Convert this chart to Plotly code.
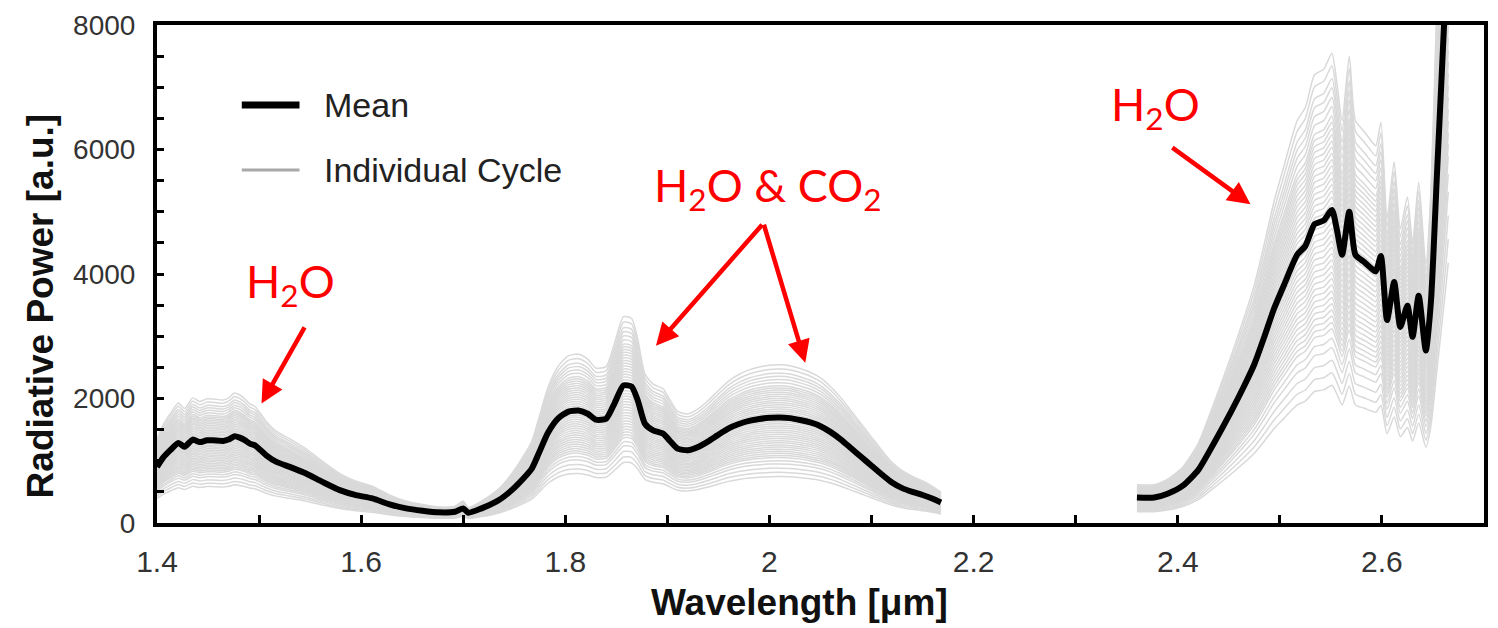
import plotly.graph_objects as go

# Mean radiative power spectrum, first band segment (1.40 - 2.17 um)
wl_a = [1.400, 1.406, 1.413, 1.421, 1.427, 1.435, 1.442, 1.449, 1.455, 1.465,
        1.470, 1.476, 1.481, 1.486, 1.491, 1.496, 1.507, 1.517, 1.530, 1.546,
        1.562, 1.579, 1.595, 1.611, 1.627, 1.644, 1.660, 1.676, 1.692, 1.700,
        1.705, 1.718, 1.735, 1.751, 1.767, 1.774, 1.783, 1.793, 1.803, 1.813,
        1.822, 1.830, 1.840, 1.848, 1.857, 1.865, 1.871, 1.878, 1.886, 1.896,
        1.902, 1.910, 1.920, 1.930, 1.940, 1.949, 1.960, 1.970, 1.980, 1.990,
        2.000, 2.010, 2.020, 2.030, 2.040, 2.050, 2.060, 2.070, 2.080, 2.090,
        2.100, 2.110, 2.120, 2.130, 2.140, 2.150, 2.160, 2.168]
mean_a = [900, 1050, 1170, 1285, 1225, 1340, 1300, 1330, 1328, 1317,
          1340, 1392, 1371, 1330, 1275, 1248, 1088, 981, 901, 795,
          661, 528, 448, 395, 304, 235, 197, 171, 181, 235,
          165, 235, 368, 581, 870, 1120, 1450, 1680, 1790, 1808,
          1755, 1659, 1675, 1915, 2210, 2190, 1968, 1595, 1488, 1435,
          1328, 1195, 1168, 1221, 1312, 1408, 1520, 1590, 1640, 1670,
          1690, 1695, 1685, 1655, 1615, 1555, 1460, 1340, 1200, 1060,
          920, 780, 650, 560, 500, 450, 390, 330]

# Second band segment (2.36 - 2.67 um)
wl_b = [2.360, 2.377, 2.390, 2.405, 2.420, 2.435, 2.452, 2.465, 2.475, 2.485,
        2.494, 2.504, 2.517, 2.525, 2.534, 2.543, 2.551, 2.556, 2.561, 2.568,
        2.574, 2.582, 2.589, 2.594, 2.599, 2.605, 2.612, 2.618, 2.625, 2.630,
        2.636, 2.643, 2.648, 2.654, 2.658, 2.662, 2.665]
mean_b = [410, 410, 470, 600, 850, 1270, 1780, 2200, 2550, 3000,
          3430, 3820, 4310, 4450, 4800, 4860, 5030, 4700, 4310, 5000,
          4310, 4200, 4100, 4040, 4290, 3260, 3870, 3150, 3490, 2990,
          3650, 2770, 3550, 5630, 7000, 8400, 9500]

# Relative intensity of each individual cycle with respect to the mean
cycle_gain = [0.44, 0.48, 0.52, 0.56, 0.59, 0.62, 0.64, 0.66, 0.68, 0.70,
              0.72, 0.74, 0.76, 0.78, 0.80, 0.82, 0.84, 0.86, 0.88, 0.90,
              0.92, 0.94, 0.96, 0.98, 1.00, 1.02, 1.04, 1.06, 1.08, 1.10,
              1.12, 1.14, 1.16, 1.18, 1.20, 1.22, 1.24, 1.26, 1.28, 1.30,
              1.33, 1.36, 1.39, 1.42, 1.46, 1.50]

x_ticks = [1.4, 1.6, 1.8, 2.0, 2.2, 2.4, 2.6]
x_tick_text = ["1.4", "1.6", "1.8", "2", "2.2", "2.4", "2.6"]
y_ticks = [0, 2000, 4000, 6000, 8000]

wl = wl_a + [None] + wl_b
mean = mean_a + [None] + mean_b

fig = go.Figure()

for g in cycle_gain:
    fig.add_trace(go.Scatter(
        x=wl,
        y=[None if v is None else v * g for v in mean],
        mode="lines",
        line=dict(color="rgb(217,217,217)", width=1.5, shape="spline", smoothing=0.6),
        hoverinfo="skip",
        showlegend=False,
    ))

fig.add_trace(go.Scatter(
    x=wl, y=mean, mode="lines",
    line=dict(color="black", width=6, shape="spline", smoothing=0.6),
    name="Mean", showlegend=False,
))

axis_font = "Liberation Sans, Arial, sans-serif"
red_font = dict(family="Lato, sans-serif", size=45, color="#ff0000")

fig.update_xaxes(
    range=[1.4, 2.7],
    tickvals=x_ticks, ticktext=x_tick_text,
    ticks="inside", ticklen=8, tickwidth=3, tickcolor="black",
    minor=dict(dtick=0.1, tick0=1.4, ticks="inside", ticklen=8, tickwidth=3, tickcolor="black"),
    showline=True, linewidth=4, linecolor="black", mirror=True,
    showgrid=False, zeroline=False,
    tickfont=dict(family=axis_font, size=30, color="#333333"),
    ticklabelstandoff=9,
)
fig.update_yaxes(
    range=[0, 8000],
    tickvals=y_ticks,
    ticks="inside", ticklen=7, tickwidth=3, tickcolor="black",
    minor=dict(dtick=500, tick0=0, ticks="inside", ticklen=7, tickwidth=3, tickcolor="black"),
    showline=True, linewidth=4, linecolor="black", mirror=True,
    showgrid=False, zeroline=False,
    tickfont=dict(family=axis_font, size=28, color="#333333"),
    ticklabelstandoff=12,
)

annotations = [
    # axis titles
    dict(text="<b>Wavelength [μm]</b>", xref="paper", yref="paper", x=0.4838, y=-0.1606,
         showarrow=False, font=dict(family=axis_font, size=37, color="#111111"),
         xanchor="center", yanchor="middle"),
    dict(text="<b>Radiative Power [a.u.]</b>", xref="paper", yref="paper", x=-0.0879, y=0.4357,
         showarrow=False, textangle=-90, font=dict(family=axis_font, size=37, color="#111111"),
         xanchor="center", yanchor="middle"),
    # legend labels
    dict(text="Mean", xref="paper", yref="paper", x=0.1240, y=0.8394,
         showarrow=False, font=dict(family=axis_font, size=34, color="#222222"),
         xanchor="left", yanchor="middle"),
    dict(text="Individual Cycle", xref="paper", yref="paper", x=0.1240, y=0.7088,
         showarrow=False, font=dict(family=axis_font, size=34, color="#222222"),
         xanchor="left", yanchor="middle"),
    # band labels
    dict(text="H<sub>2</sub>O", x=1.5307, y=3840, showarrow=False, font=red_font,
         xanchor="center", yanchor="middle"),
    dict(text="H<sub>2</sub>O &amp; CO<sub>2</sub>", x=1.998, y=5376, showarrow=False,
         font=red_font, xanchor="center", yanchor="middle"),
    dict(text="H<sub>2</sub>O", x=2.3785, y=6688, showarrow=False, font=red_font,
         xanchor="center", yanchor="middle"),
]

arrow_style = dict(text="", showarrow=True, axref="x", ayref="y",
                   arrowhead=2, arrowsize=1, arrowwidth=4.5, arrowcolor="#ff0000")
arrows = [
    (1.5454, 3168, 1.5024, 1920),
    (1.9941, 4816, 1.8888, 2848),
    (1.9941, 4816, 2.0351, 2576),
    (2.3932, 6048, 2.4712, 5120),
]
for ax0, ay0, hx, hy in arrows:
    annotations.append(dict(x=hx, y=hy, ax=ax0, ay=ay0, **arrow_style))

fig.update_layout(
    width=1498, height=628,
    margin=dict(l=157, r=10, t=25, b=105),
    paper_bgcolor="white", plot_bgcolor="white",
    showlegend=False,
    annotations=annotations,
    shapes=[
        dict(type="line", xref="paper", yref="paper", x0=0.0639, x1=0.1074,
             y0=0.8394, y1=0.8394, line=dict(color="black", width=7)),
        dict(type="line", xref="paper", yref="paper", x0=0.0639, x1=0.1074,
             y0=0.7088, y1=0.7088, line=dict(color="#a8a8a8", width=3)),
    ],
)

fig.write_html("out.html")
